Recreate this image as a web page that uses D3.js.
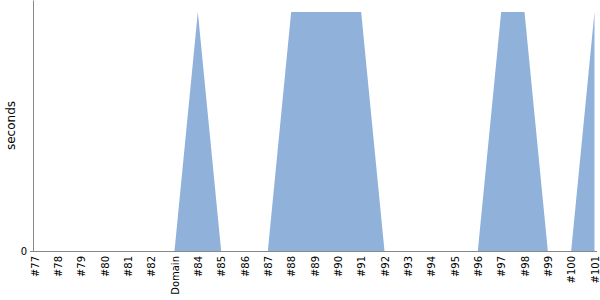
<!DOCTYPE html>
<html>
<head>
  <meta charset="UTF-8">
  <style>
    body { margin: 0; background: #fff; }
    text { font-family: "DejaVu Sans", sans-serif; }
    .axis path, .axis line { stroke: #888; }
    .area { fill: #8fb1da; }
  </style>
</head>
<body>
  <svg width="600" height="300" id="chart"></svg>
  <script src="https://d3js.org/d3.v7.min.js"></script>
  <script>
    var labels = ["#77", "#78", "#79", "#80", "#81", "#82", "Domain", "#84", "#85", "#86",
      "#87", "#88", "#89", "#90", "#91", "#92", "#93", "#94", "#95", "#96",
      "#97", "#98", "#99", "#100", "#101"];
    var seconds = [0, 0, 0, 0, 0, 0, 0, 60, 0, 0,
      0, 60, 60, 60, 60, 0, 0, 0, 0, 0,
      60, 60, 0, 0, 60];

    var svg = d3.select("#chart"),
      margin = { top: 0, right: 4, bottom: 49, left: 33 },
      width = 600 - margin.left - margin.right,
      height = 300 - margin.top - margin.bottom;

    var g = svg.append("g").attr("transform", "translate(" + margin.left + "," + margin.top + ")");

    var x = d3.scalePoint().domain(labels).range([1.5, width - 1.5]),
      y = d3.scaleLinear().domain([0, 63]).range([height, 0]);

    var data = labels.map(function (l, i) { return { label: l, value: seconds[i] }; });

    var area = d3.area()
      .x(function (d) { return x(d.label); })
      .y0(y(0))
      .y1(function (d) { return y(d.value); });

    g.append("path").datum(data).attr("class", "area").attr("d", area);

    g.append("g")
      .attr("class", "axis")
      .call(d3.axisLeft(y).tickValues([0]).tickSize(3).tickSizeOuter(0))
      .call(function (s) { s.selectAll("text").attr("font-size", 10).attr("fill", "#000"); });

    var xa = g.append("g")
      .attr("class", "axis")
      .attr("transform", "translate(0," + height + ")")
      .call(d3.axisBottom(x).tickSize(0).tickSizeOuter(0));
    xa.select(".domain").attr("d", "M-0.5,0.5H" + (width + 1));
    xa.selectAll("text")
      .attr("font-size", 10)
      .attr("fill", "#000")
      .attr("text-anchor", "end")
      .attr("transform", "rotate(-90)")
      .attr("x", -5)
      .attr("y", 0)
      .attr("dy", "0.35em");

    svg.append("text")
      .attr("transform", "translate(15," + (margin.top + height / 2) + ") rotate(-90)")
      .attr("text-anchor", "middle")
      .attr("font-size", 12)
      .text("seconds");
  </script>
</body>
</html>
